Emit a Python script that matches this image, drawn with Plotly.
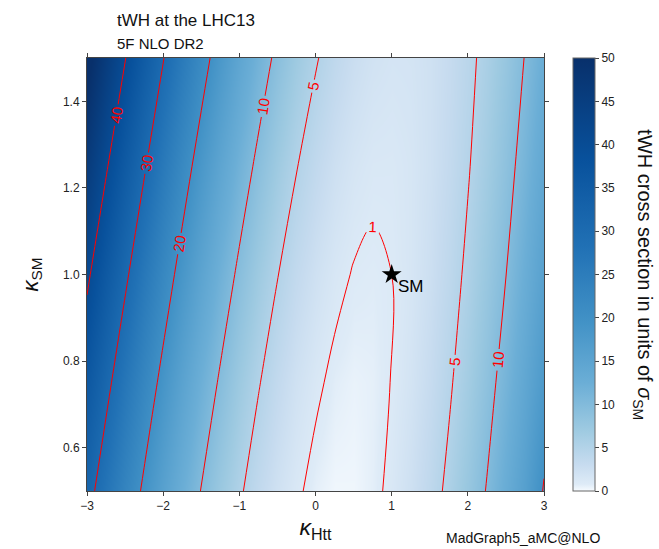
import plotly.graph_objects as go

# kappa_Htt scan points (x) and kappa_SM scan points (y)
kappa_htt = [-3.0, -2.75, -2.5, -2.25, -2.0, -1.75, -1.5, -1.25, -1.0, -0.75, -0.5, -0.25,
             0.0, 0.25, 0.5, 0.75, 1.0, 1.25, 1.5, 1.75, 2.0, 2.25, 2.5, 2.75, 3.0]
kappa_sm = [0.5, 0.75, 1.0, 1.25, 1.5]

# tWH cross section in units of sigma_SM, one row per kappa_SM value
xsec_ksm_050 = [31.80, 27.28, 23.10, 19.27, 15.79, 12.66, 9.88, 7.45, 5.37, 3.64, 2.26, 1.24,
                0.56, 0.23, 0.25, 0.62, 1.34, 2.41, 3.83, 5.60, 7.72, 10.19, 13.02, 16.19, 20.30]
xsec_ksm_075 = [36.15, 31.28, 26.77, 22.62, 18.82, 15.38, 12.30, 9.57, 7.19, 5.18, 3.52, 2.21,
                1.27, 0.67, 0.44, 0.56, 1.04, 1.87, 3.06, 4.61, 6.51, 8.77, 11.38, 14.35, 17.68]
xsec_ksm_100 = [40.90, 35.69, 30.84, 26.35, 22.23, 18.47, 15.07, 12.03, 9.35, 7.04, 5.09, 3.50,
                2.28, 1.41, 0.91, 0.78, 1.00, 1.59, 2.54, 3.85, 5.52, 7.56, 9.96, 12.72, 15.85]
xsec_ksm_125 = [46.08, 40.51, 35.31, 30.48, 26.02, 21.92, 18.20, 14.84, 11.86, 9.24, 6.99, 5.11,
                3.60, 2.45, 1.68, 1.27, 1.24, 1.57, 2.27, 3.34, 4.78, 6.58, 8.76, 11.30, 14.22]
xsec_ksm_150 = [51.68, 45.75, 40.19, 35.01, 30.20, 25.77, 21.71, 18.03, 14.72, 11.79, 9.23, 7.05,
                5.24, 3.81, 2.75, 2.07, 1.76, 1.83, 2.27, 3.09, 4.28, 5.85, 7.79, 10.11, 12.80]

contour_levels = [1, 5, 10, 20, 30, 40]
colorbar_ticks = [0, 5, 10, 15, 20, 25, 30, 35, 40, 45, 50]
sm_point_x = [1.0]
sm_point_y = [1.0]

z = [xsec_ksm_050, xsec_ksm_075, xsec_ksm_100, xsec_ksm_125, xsec_ksm_150]

# Blues palette, spaced on a square-root (power 0.5) colour normalisation
blues_colors = ["rgb(247,251,255)", "rgb(222,235,247)", "rgb(198,219,239)", "rgb(158,202,225)",
                "rgb(107,174,214)", "rgb(66,146,198)", "rgb(33,113,181)", "rgb(8,81,156)",
                "rgb(8,48,107)"]
n = len(blues_colors) - 1
blues = [[(i / n) ** 2, c] for i, c in enumerate(blues_colors)]

FONT = "Liberation Sans, Arial, Helvetica, sans-serif"

fig = go.Figure()

fig.add_trace(go.Heatmap(
    x=kappa_htt, y=kappa_sm, z=z, zsmooth="best",
    colorscale=blues, zmin=0, zmax=50, hoverinfo="skip",
    colorbar=dict(
        x=1.0635, xanchor="left", xpad=0, y=0.5, yanchor="middle", ypad=0,
        len=1.0, lenmode="fraction",
        thickness=22, outlinecolor="#666", outlinewidth=1,
        tickvals=colorbar_ticks, ticks="outside", ticklen=4, tickcolor="#444",
        tickfont=dict(size=12, color="#222", family=FONT),
    ),
))

for lev in contour_levels:
    fig.add_trace(go.Contour(
        x=kappa_htt, y=kappa_sm, z=z, autocontour=False,
        contours=dict(start=lev, end=lev, size=1, coloring="none", showlabels=True,
                      labelfont=dict(color="red", size=15, family=FONT)),
        line=dict(color="red", width=1), showscale=False, hoverinfo="skip",
    ))

fig.add_trace(go.Scatter(
    x=sm_point_x, y=sm_point_y, mode="markers",
    marker=dict(symbol="star", size=15, color="black"),
    showlegend=False, hoverinfo="skip",
))

axis_common = dict(
    showline=True, linecolor="#444", linewidth=1, mirror="ticks",
    ticks="outside", ticklen=4, tickcolor="#444", showgrid=False, zeroline=False,
    tickfont=dict(size=12, color="#222", family=FONT), automargin=False,
)

fig.update_layout(
    width=659, height=549,
    margin=dict(l=87, r=115, t=58, b=58, autoexpand=False),
    paper_bgcolor="white", plot_bgcolor="white",
    font=dict(family=FONT, color="#111"),
    showlegend=False,
    xaxis=dict(range=[-3, 3], dtick=1,
               title=dict(text="<i>κ</i><sub>Htt</sub>", font=dict(size=23), standoff=6),
               **axis_common),
    yaxis=dict(range=[0.5, 1.5], tickvals=[0.6, 0.8, 1.0, 1.2, 1.4], tickformat=".1f",
               title=dict(text="<i>κ</i><sub>SM</sub>", font=dict(size=22), standoff=18),
               **axis_common),
    annotations=[
        dict(text="SM", x=sm_point_x[0], y=sm_point_y[0], xref="x", yref="y",
             xanchor="left", yanchor="middle", xshift=4, yshift=-12, showarrow=False,
             font=dict(size=17, color="black")),
        dict(text="tWH at the LHC13", xref="paper", yref="paper", x=0.061, y=1.0855,
             xanchor="left", yanchor="middle", showarrow=False, font=dict(size=17)),
        dict(text="5F NLO DR2", xref="paper", yref="paper", x=0.061, y=1.0335,
             xanchor="left", yanchor="middle", showarrow=False, font=dict(size=15)),
        dict(text="MadGraph5_aMC@NLO", xref="paper", yref="paper", x=1.126, y=-0.1085,
             xanchor="right", yanchor="middle", showarrow=False, font=dict(size=14)),
        dict(text="tWH cross section in units of <i>σ</i><sub>SM</sub>", xref="paper", yref="paper",
             x=1.217, y=0.5, xanchor="center", yanchor="middle", textangle=90,
             showarrow=False, font=dict(size=20)),
    ],
)

fig.write_html("out.html", config={"displayModeBar": False},
               post_script="document.body.style.margin='0';document.body.style.overflow='hidden';")
